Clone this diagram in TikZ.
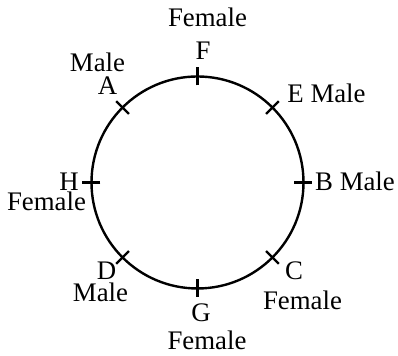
\documentclass[tikz,border=0pt]{standalone}
\usepackage{fontspec}
\setmainfont{Liberation Serif}
\usepackage{tikz}
\usetikzlibrary{positioning, calc}

\tikzset{
  seat/.style={line width=1.2pt},
  lbl/.style={anchor=base, inner sep=0pt, font=\fontsize{13.4}{16}\selectfont}
}

\begin{document}
\begin{tikzpicture}[x=0.5pt, y=0.5pt]
    \useasboundingbox (0,0) rectangle (398,356);
    \coordinate (ctr) at (197.5,173.5);
    \draw[seat] (ctr) circle[radius=106];
    % seats round the table
    \foreach \ang/\nm in {90/F, 45/E, 0/B, -45/C, -90/G, -135/D, 180/H, 135/A}{
      \coordinate (in\nm) at ($(ctr)+(\ang:97)$);
      \coordinate (out\nm) at ($(ctr)+(\ang:115)$);
      \draw[seat] (in\nm) -- (out\nm);
    }
    \node[lbl] (sexF) at (207.5,329.3) {Female};
    \node[lbl] (nameF) at (203,296.7) {F};
    \node[lbl] (sexA) at (97.5,284.3) {Male};
    \node[lbl] (nameA) at (107.5,261) {A};
    \node[lbl] (nameE) at (326.5,253.3) {E Male};
    \node[lbl] (nameH) at (69,165.3) {H};
    \node[lbl] (sexH) at (46.5,145.3) {Female};
    \node[lbl] (nameB) at (355,165.3) {B Male};
    \node[lbl] (nameD) at (106.5,76) {D};
    \node[lbl] (sexD) at (100.5,54.3) {Male};
    \node[lbl] (nameC) at (294,76.7) {C};
    \node[lbl] (sexC) at (302.5,46) {Female};
    \node[lbl] (nameG) at (201,34.3) {G};
    \node[lbl] (sexG) at (207,6) {Female};
\end{tikzpicture}
\end{document}
